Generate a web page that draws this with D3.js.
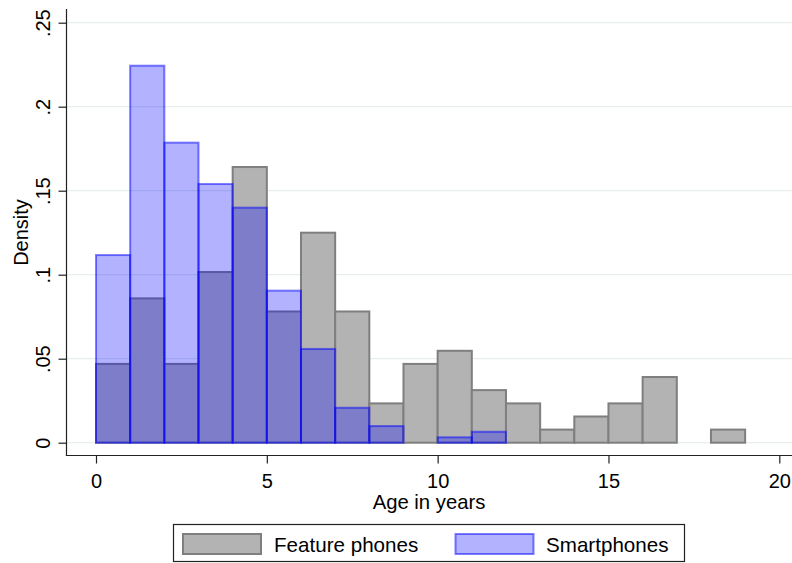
<!DOCTYPE html>
<html>
<head>
<meta charset="utf-8">
<script src="https://cdn.jsdelivr.net/npm/d3@7"></script>
<style>
  html, body { margin: 0; padding: 0; background: #fff; }
  svg { display: block; font-family: "Liberation Sans", Arial, sans-serif; }
</style>
</head>
<body>
<svg id="chart" width="792" height="563"></svg>
<script>
// Histogram of device age, one-year bins starting at 0
const binStarts = [0, 1, 2, 3, 4, 5, 6, 7, 8, 9, 10, 11, 12, 13, 14, 15, 16, 17, 18];
const featureDensity = [0.0469, 0.0859, 0.0469, 0.1016, 0.1641, 0.0781, 0.1250, 0.0781, 0.0234, 0.0469,
                        0.0547, 0.0313, 0.0234, 0.0078, 0.0156, 0.0234, 0.0391, 0, 0.0078];
const smartDensity = [0.1117, 0.2244, 0.1786, 0.1540, 0.1399, 0.0905, 0.0558, 0.0208, 0.0099, 0,
                      0.0032, 0.0065];
const xTicks = [0, 5, 10, 15, 20];
const yTicks = [0, 0.05, 0.1, 0.15, 0.2, 0.25];
const yTickLabels = ["0", ".05", ".1", ".15", ".2", ".25"];
const seriesNames = ["Feature phones", "Smartphones"];

const svg = d3.select("#chart");
const FONT = 20;
const LEGEND_FONT = 20.6;

const x = d3.scaleLinear().domain([0, 20]).range([96, 779.3]);
const y = d3.scaleLinear().domain([0, 0.25]).range([442.7, 22.7]);

const axisLeftX = 66.5, axisBottomY = 455.5, axisTop = 9, plotRight = 792;

// horizontal grid lines
svg.append("g").selectAll("line").data(yTicks).join("line")
  .attr("x1", axisLeftX).attr("x2", plotRight)
  .attr("y1", d => y(d)).attr("y2", d => y(d))
  .attr("stroke", "#e6eef0").attr("stroke-width", 1.3);

// feature phone bars
const featureData = featureDensity.map((v, i) => ({ x0: binStarts[i], v }));
svg.append("g").selectAll("rect").data(featureData.filter(d => d.v > 0)).join("rect")
  .attr("x", d => x(d.x0)).attr("width", d => x(d.x0 + 1) - x(d.x0))
  .attr("y", d => y(d.v)).attr("height", d => y(0) - y(d.v))
  .attr("fill", "#b3b3b3").attr("stroke", "#7f7f7f").attr("stroke-width", 2);

// smartphone bars, translucent on top
const smartData = smartDensity.map((v, i) => ({ x0: binStarts[i], v }));
svg.append("g").selectAll("rect").data(smartData.filter(d => d.v > 0)).join("rect")
  .attr("x", d => x(d.x0)).attr("width", d => x(d.x0 + 1) - x(d.x0))
  .attr("y", d => y(d.v)).attr("height", d => y(0) - y(d.v))
  .attr("fill", "rgba(0,0,255,0.3)").attr("stroke", "rgba(0,0,255,0.5)").attr("stroke-width", 2);

// axes
const yAxis = svg.append("g").attr("transform", `translate(${axisLeftX},0)`)
  .call(d3.axisLeft(y).tickValues(yTicks).tickFormat((d, i) => yTickLabels[i]).tickSize(8).tickPadding(0));
yAxis.select(".domain").remove();
yAxis.selectAll(".tick line").attr("stroke", "#222").attr("stroke-width", 1.2);
yAxis.selectAll(".tick text")
  .attr("font-size", FONT).attr("fill", "#000").attr("font-family", "Liberation Sans, Arial, sans-serif")
  .attr("text-anchor", "middle").attr("dy", 0).attr("x", 0)
  .attr("transform", "translate(-16.5,0) rotate(-90)");

const xAxis = svg.append("g").attr("transform", `translate(0,${axisBottomY})`)
  .call(d3.axisBottom(x).tickValues(xTicks).tickFormat(d3.format("d")).tickSize(8).tickPadding(0));
xAxis.select(".domain").remove();
xAxis.selectAll(".tick line").attr("stroke", "#222").attr("stroke-width", 1.2);
xAxis.selectAll(".tick text")
  .attr("font-size", FONT).attr("fill", "#000").attr("font-family", "Liberation Sans, Arial, sans-serif")
  .attr("dy", 0).attr("y", 32.8);

// axis lines
svg.append("line").attr("x1", axisLeftX).attr("x2", axisLeftX).attr("y1", axisTop).attr("y2", axisBottomY + 0.6)
  .attr("stroke", "#222").attr("stroke-width", 1.2);
svg.append("line").attr("x1", axisLeftX - 0.6).attr("x2", plotRight).attr("y1", axisBottomY).attr("y2", axisBottomY)
  .attr("stroke", "#222").attr("stroke-width", 1.2);

// axis titles
svg.append("text").attr("x", 429).attr("y", 508.5).attr("text-anchor", "middle")
  .attr("font-size", 20.3).text("Age in years");
svg.append("text").attr("transform", "translate(27.8,232.5) rotate(-90)").attr("text-anchor", "middle")
  .attr("font-size", FONT).text("Density");

// legend
const legend = svg.append("g");
legend.append("rect").attr("x", 173.5).attr("y", 524.5).attr("width", 511).attr("height", 37)
  .attr("fill", "#fff").attr("stroke", "#222").attr("stroke-width", 1.2);
const legendItems = [
  { name: seriesNames[0], sx: 183, tx: 274, fill: "#b3b3b3", stroke: "#7f7f7f" },
  { name: seriesNames[1], sx: 455.5, tx: 546, fill: "rgba(0,0,255,0.3)", stroke: "rgba(0,0,255,0.5)" }
];
legendItems.forEach(it => {
  legend.append("rect").attr("x", it.sx).attr("y", 534).attr("width", 78).attr("height", 20)
    .attr("fill", it.fill).attr("stroke", it.stroke).attr("stroke-width", 2);
  legend.append("text").attr("x", it.tx).attr("y", 551.5).attr("font-size", LEGEND_FONT).text(it.name);
});
</script>
</body>
</html>
